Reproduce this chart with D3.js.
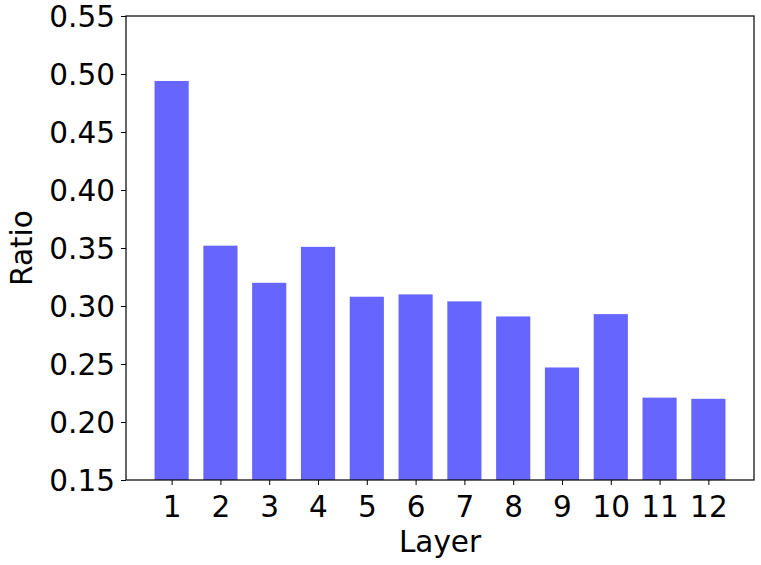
<!DOCTYPE html>
<html><head><meta charset="utf-8">
<script src="https://cdn.jsdelivr.net/npm/d3@7"></script>
<style>body{margin:0;background:#fff;} text{font-family:"DejaVu Sans",sans-serif;}</style>
</head><body>
<svg id="c" width="761" height="565"></svg>
<script>
const categories = [1,2,3,4,5,6,7,8,9,10,11,12];
const ratios = [0.494,0.352,0.320,0.351,0.308,0.310,0.304,0.291,0.247,0.293,0.221,0.220];
const yTicks = [0.15,0.20,0.25,0.30,0.35,0.40,0.45,0.50,0.55];

const svg = d3.select("#c");
const L = 126, R = 754, T = 16, B = 480;
const fs = 29.5;
const x = d3.scaleLinear().domain([0.065, 12.935]).range([L, R]);
const y = d3.scaleLinear().domain([0.15, 0.55]).range([B, T]);
const bw = 0.7;

svg.append("g").selectAll("rect").data(categories).join("rect")
  .attr("x", (d) => x(d - bw/2))
  .attr("width", (d) => x(d + bw/2) - x(d - bw/2))
  .attr("y", (d,i) => y(ratios[i]))
  .attr("height", (d,i) => B - y(ratios[i]))
  .attr("fill", "#6666ff");

const xAxis = svg.append("g").attr("transform", `translate(0,${B})`)
  .call(d3.axisBottom(x).tickValues(categories).tickFormat(d3.format("d")).tickSize(5).tickPadding(5));
const yAxis = svg.append("g").attr("transform", `translate(${L},0)`)
  .call(d3.axisLeft(y).tickValues(yTicks).tickFormat(d3.format(".2f")).tickSize(5).tickPadding(6));
[xAxis, yAxis].forEach(g => {
  g.select(".domain").remove();
  g.selectAll("text").attr("font-size", fs).attr("fill", "#000").attr("font-family", "DejaVu Sans");
  g.selectAll("line").attr("stroke", "#000").attr("stroke-width", 1);
});
xAxis.selectAll("text").attr("dy", "0.9em");
yAxis.selectAll("text").attr("dy", "0.36em");

svg.append("rect").attr("x", L).attr("y", T).attr("width", R - L).attr("height", B - T)
  .attr("fill", "none").attr("stroke", "#000").attr("stroke-width", 1.2);

svg.append("text").attr("x", (L + R) / 2).attr("y", 552).attr("text-anchor", "middle")
  .attr("font-size", fs).text("Layer");
svg.append("text").attr("transform", `translate(32,${(T + B) / 2}) rotate(-90)`)
  .attr("text-anchor", "middle").attr("font-size", fs).text("Ratio");
</script>
</body></html>
